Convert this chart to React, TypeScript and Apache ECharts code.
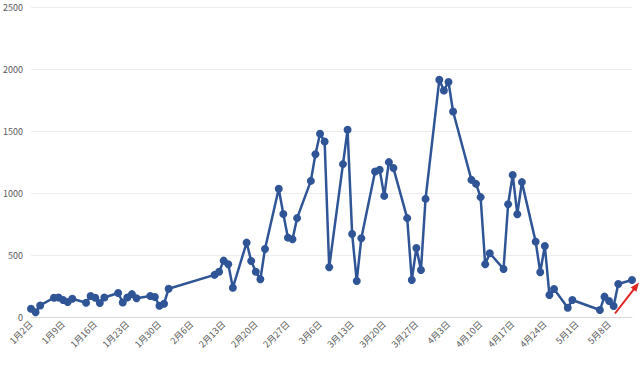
import React, { useEffect, useRef } from "react";
import * as echarts from "echarts";

const startDate = [2023, 1, 2];
const endDate = [2023, 5, 13];

const pointDates = [
  "1-2", "1-3", "1-4", "1-7", "1-8", "1-9", "1-10", "1-11", "1-14", "1-15",
  "1-16", "1-17", "1-18", "1-21", "1-22", "1-23", "1-24", "1-25", "1-28", "1-29",
  "1-30", "1-31", "2-1", "2-11", "2-12", "2-13", "2-14", "2-15", "2-18", "2-19",
  "2-20", "2-21", "2-22", "2-25", "2-26", "2-27", "2-28", "3-1", "3-4", "3-5",
  "3-6", "3-7", "3-8", "3-11", "3-12", "3-13", "3-14", "3-15", "3-18", "3-19",
  "3-20", "3-21", "3-22", "3-25", "3-26", "3-27", "3-28", "3-29", "4-1", "4-2",
  "4-3", "4-4", "4-8", "4-9", "4-10", "4-11", "4-12", "4-15", "4-16", "4-17",
  "4-18", "4-19", "4-22", "4-23", "4-24", "4-25", "4-26", "4-29", "4-30", "5-6",
  "5-7", "5-8", "5-9", "5-10", "5-13",
];

const pointValues = [
  70, 42, 97, 159, 161, 141, 125, 151, 119, 173,
  159, 117, 161, 197, 121, 161, 188, 155, 173, 165,
  94, 111, 232, 343, 369, 458, 429, 240, 603, 455,
  369, 308, 552, 1036, 834, 643, 630, 800, 1100, 1315,
  1479, 1417, 405, 1235, 1511, 673, 294, 638, 1175, 1189,
  979, 1251, 1203, 800, 302, 560, 383, 955, 1914, 1828,
  1896, 1659, 1108, 1076, 969, 429, 517, 391, 912, 1148,
  832, 1090, 611, 364, 576, 181, 230, 79, 141, 60,
  168, 133, 93, 270, 302,
];

const yTicks = { min: 0, max: 2500, interval: 500 };

function label(m: number, d: number) {
  return `${m}月${d}日`;
}

function buildCategories(): string[] {
  const out: string[] = [];
  const d = new Date(startDate[0], startDate[1] - 1, startDate[2]);
  const end = new Date(endDate[0], endDate[1] - 1, endDate[2]);
  while (d.getTime() <= end.getTime()) {
    out.push(label(d.getMonth() + 1, d.getDate()));
    d.setDate(d.getDate() + 1);
  }
  return out;
}

export default function App() {
  const ref = useRef<HTMLDivElement>(null);
  useEffect(() => {
    if (!ref.current) return;
    const chart = echarts.init(ref.current, null, { renderer: "svg" });
    const categories = buildCategories();
    const data = pointDates.map((s, i) => {
      const [m, d] = s.split("-").map(Number);
      return [label(m, d), pointValues[i]];
    });

    // red arrow annotation
    const tip = [639, 282.5];
    const tail = [615, 313.5];
    const dx = tip[0] - tail[0];
    const dy = tip[1] - tail[1];
    const len = Math.sqrt(dx * dx + dy * dy);
    const ux = dx / len;
    const uy = dy / len;
    const hl = 9;
    const hw = 3.6;
    const bx = tip[0] - ux * hl;
    const by = tip[1] - uy * hl;
    const px = -uy;
    const py = ux;

    chart.setOption({
      animation: false,
      backgroundColor: "#ffffff",
      grid: { left: 31, right: 8, top: 7, bottom: 51.5, containLabel: false },
      xAxis: {
        type: "category",
        data: categories,
        boundaryGap: false,
        axisTick: { show: false },
        axisLine: { show: true, lineStyle: { color: "#d9d9d9", width: 1 } },
        splitLine: { show: false },
        axisLabel: {
          interval: 6,
          rotate: 45,
          color: "#595959",
          fontSize: 9,
          margin: 5,
          fontFamily: "Noto Sans CJK SC",
        },
      },
      yAxis: {
        type: "value",
        min: yTicks.min,
        max: yTicks.max,
        interval: yTicks.interval,
        axisLine: { show: false },
        axisTick: { show: false },
        splitLine: { show: true, lineStyle: { color: "#ececec", width: 1 } },
        axisLabel: {
          color: "#595959",
          fontSize: 9,
          margin: 8,
          fontFamily: "Noto Sans CJK SC",
          formatter: (v: number) => String(v),
        },
      },
      series: [
        {
          type: "line",
          data,
          connectNulls: true,
          symbol: "circle",
          symbolSize: 8,
          showSymbol: true,
          showAllSymbol: true,
          lineStyle: { color: "#2f5597", width: 2.5 },
          itemStyle: { color: "#2f5597" },
        },
      ],
      graphic: [
        {
          type: "line",
          shape: { x1: tail[0], y1: tail[1], x2: bx + ux * 1, y2: by + uy * 1 },
          style: { stroke: "#e02424", lineWidth: 2 },
          z: 100,
        },
        {
          type: "polygon",
          shape: {
            points: [
              [tip[0], tip[1]],
              [bx + px * hw, by + py * hw],
              [bx - px * hw, by - py * hw],
            ],
          },
          style: { fill: "#e02424" },
          z: 100,
        },
      ],
    });
    return () => chart.dispose();
  }, []);
  return (
    <div
      ref={ref}
      style={{ position: "fixed", left: 0, top: 0, width: 640, height: 369 }}
    />
  );
}
